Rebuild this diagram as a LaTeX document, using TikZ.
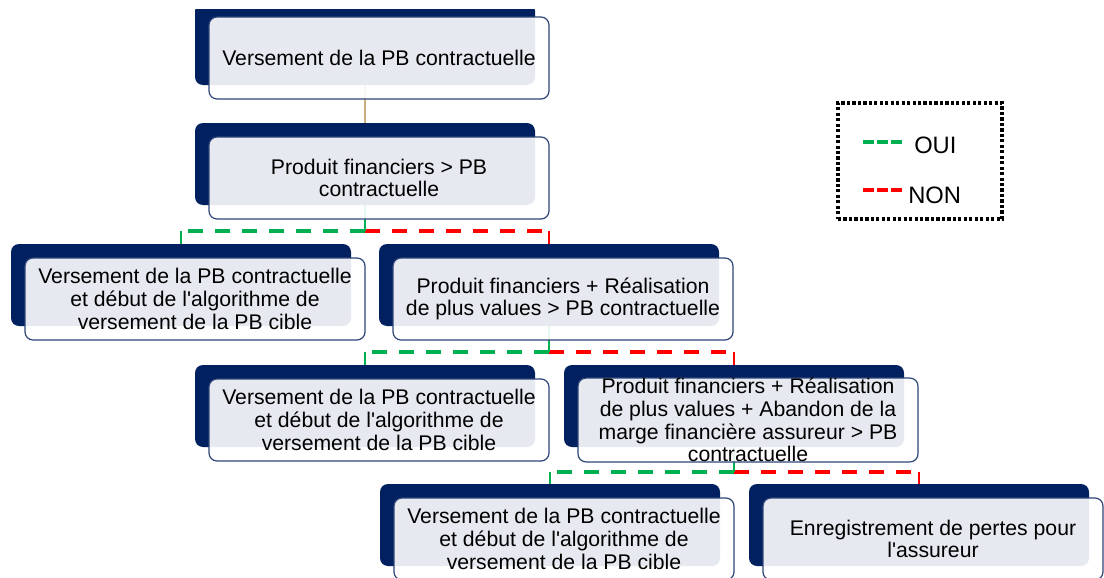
\documentclass[tikz,border=0pt]{standalone}
\usepackage{fontspec}
\setmainfont{Liberation Sans}
\definecolor{navybar}{RGB}{0,32,96}
\definecolor{boxline}{RGB}{47,68,120}
\definecolor{ouigreen}{RGB}{0,176,80}
\definecolor{nonred}{RGB}{255,0,0}
\definecolor{tanline}{RGB}{205,175,125}
\pgfdeclarelayer{paper}
\pgfdeclarelayer{links}
\pgfsetlayers{paper,links,main}
\newcommand{\apos}{\textquotesingle}
\begin{document}
\begin{tikzpicture}[x=0.75pt,y=-0.75pt,
  backbar/.style={rectangle, rounded corners=6pt, fill=navybar,
    minimum width=255pt, minimum height=61.5pt, inner sep=0pt, outer sep=0pt},
  card/.style={rectangle, rounded corners=6pt, draw=boxline, line width=0.9pt,
    fill=white, fill opacity=0.9, text opacity=1,
    minimum width=255pt, minimum height=61.5pt, inner sep=0pt, outer sep=0pt,
    align=center, font=\fontsize{15.9}{17}\selectfont},
  dashline/.style={line width=2.4pt, dash pattern=on 11.25pt off 9pt},
  stubline/.style={line width=1.5pt},
  legendbox/.style={rectangle, draw=black, line width=2.6pt, dash pattern=on 2.4pt off 1.7pt,
    minimum width=123pt, minimum height=87pt, inner sep=0pt},
  legendtext/.style={inner sep=0pt, anchor=west, font=\fontsize{17.8}{20}\selectfont},
  sample/.style={line width=3pt, dash pattern=on 8.25pt off 2.25pt}
]
\useasboundingbox (0,0) rectangle (1104,578);
\begin{pgfonlayer}{paper}
\fill[white] (0,0) rectangle (1104,578);
\end{pgfonlayer}

\begin{scope}
\clip (0,9) rectangle (1104,578);
% dark backing bars
\node[backbar] (d1)  at (365,44)  {};
\node[backbar] (d2)  at (365,164) {};
\node[backbar] (d3a) at (181,285) {};
\node[backbar] (d3b) at (549,285) {};
\node[backbar] (d4a) at (365,406) {};
\node[backbar] (d4b) at (734,406) {};
\node[backbar] (d5a) at (550,525) {};
\node[backbar] (d5b) at (919,525) {};

% text cards
\node[card] (f1)  at (379,58)  {Versement de la PB contractuelle};
\node[card] (f2)  at (379,178) {Produit financiers > PB\\contractuelle};
\node[card] (f3a) at (195,299) {Versement de la PB contractuelle\\et d\'ebut de l\apos algorithme de\\versement de la PB cible};
\node[card] (f3b) at (563,299) {Produit financiers + R\'ealisation\\de plus values > PB contractuelle};
\node[card] (f4a) at (379,420) {Versement de la PB contractuelle\\et d\'ebut de l\apos algorithme de\\versement de la PB cible};
\node[card] (f4b) at (748,420) {Produit financiers + R\'ealisation\\de plus values + Abandon de la\\marge financi\`ere assureur > PB\\contractuelle};
\node[card] (f5a) at (564,539) {Versement de la PB contractuelle\\et d\'ebut de l\apos algorithme de\\versement de la PB cible};
\node[card] (f5b) at (933,539) {Enregistrement de pertes pour\\l\apos assureur};
\end{scope}

% junction points of the OUI / NON branches
\coordinate (j2) at (365,231);
\coordinate (j3) at (549,352);
\coordinate (j4) at (734,472);

% connectors, kept behind the boxes
\begin{pgfonlayer}{links}
\draw[tanline, line width=0.9pt] (d1.south) -- (d2.north);

% level 2 -> level 3
\draw[nonred, stubline] (j2 -| d3b.north) -- (d3b.north);
\draw[nonred, dashline] (j2) -- (j2 -| d3b.north);
\draw[ouigreen, stubline] (j2 -| d3a.north) -- (d3a.north);
\draw[ouigreen, dashline] (j2) -- (j2 -| d3a.north);
\draw[ouigreen, stubline] (d2.south) -- (j2);

% level 3 -> level 4
\draw[nonred, stubline] (j3 -| d4b.north) -- (d4b.north);
\draw[nonred, dashline] (j3) -- (j3 -| d4b.north);
\draw[ouigreen, stubline] (j3 -| d4a.north) -- (d4a.north);
\draw[ouigreen, dashline] (j3) -- (j3 -| d4a.north);
\draw[ouigreen, stubline] (d3b.south) -- (j3);

% level 4 -> level 5
\draw[nonred, stubline] (j4 -| d5b.north) -- (d5b.north);
\draw[nonred, dashline] (j4) -- (j4 -| d5b.north);
\draw[ouigreen, stubline] (j4 -| d5a.north) -- (d5a.north);
\draw[ouigreen, dashline] (j4) -- (j4 -| d5a.north);
\draw[ouigreen, stubline] (d4b.south) -- (j4);
\end{pgfonlayer}

% legend
\node[legendbox] (legend) at (920,161) {};
\draw[ouigreen, sample] (863,142) -- (902,142);
\draw[nonred, sample] (863,190) -- (902,190);
\node[legendtext] (oui) at (914,145) {OUI};
\node[legendtext] (non) at (908,195) {NON};
\end{tikzpicture}
\end{document}
